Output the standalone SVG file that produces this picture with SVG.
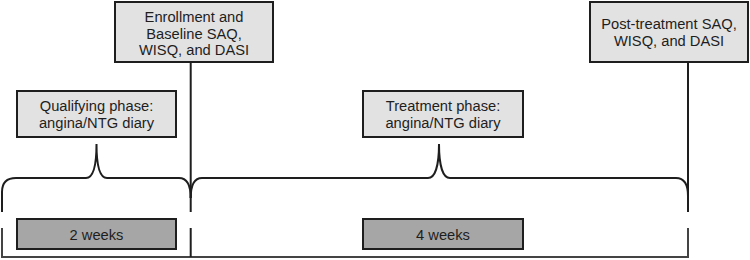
<svg xmlns="http://www.w3.org/2000/svg" width="750" height="260" viewBox="0 0 750 260">
<style>
.box{stroke:#1e1e1e;stroke-width:2}
.light{fill:#e2e2e2}
.dark{fill:#a6a6a6}
.t{font-family:"Liberation Sans",Arial,sans-serif;font-size:14.7px;fill:#1e1e1e;text-anchor:middle}
.ln{fill:none;stroke:#1e1e1e;stroke-width:2}
.base{fill:none;stroke:#444;stroke-width:2}
</style>
<rect width="750" height="260" fill="#fff"/>
<g id="connectors">
<path class="ln" d="M190.7,62 L190.7,212"/>
<path class="ln" d="M688,62 L688,212"/>
<path class="ln" d="M2,212 L2,192 C2,183 7,178 16,178 L86,178 C93,178 96.5,166 96.5,144 C96.5,166 100,178 107,178 L179,178 C186,178 190.7,184 190.7,198"/>
<path class="ln" d="M190.7,198 C190.7,184 195,178 202,178 L428,178 C435,178 439,166 439,144 C439,166 443,178 450,178 L676,178 C684,178 688,184 688,196"/>
<path class="base" d="M2,228 L2,257 L688,257 L688,228"/>
<path class="ln" d="M190.7,228 L190.7,257"/>
</g>
<g id="enrollment">
<rect class="box light" x="115" y="2" width="158" height="60"/>
<text class="t" x="194" y="22">Enrollment and</text>
<text class="t" x="194" y="38.5">Baseline SAQ,</text>
<text class="t" x="194" y="55">WISQ, and DASI</text>
</g>
<g id="post-treatment">
<rect class="box light" x="590" y="2" width="158" height="60"/>
<text class="t" x="669" y="29">Post-treatment SAQ,</text>
<text class="t" x="669" y="46">WISQ, and DASI</text>
</g>
<g id="qualifying">
<rect class="box light" x="17" y="91" width="159" height="46"/>
<text class="t" x="96.5" y="111">Qualifying phase:</text>
<text class="t" x="96.5" y="128">angina/NTG diary</text>
</g>
<g id="treatment">
<rect class="box light" x="363" y="91" width="160" height="46"/>
<text class="t" x="443" y="111">Treatment phase:</text>
<text class="t" x="443" y="128">angina/NTG diary</text>
</g>
<g id="two-weeks">
<rect class="box dark" x="17" y="219" width="159" height="30"/>
<text class="t" x="96.5" y="240">2 weeks</text>
</g>
<g id="four-weeks">
<rect class="box dark" x="363" y="219" width="160" height="30"/>
<text class="t" x="443" y="240">4 weeks</text>
</g>
</svg>
